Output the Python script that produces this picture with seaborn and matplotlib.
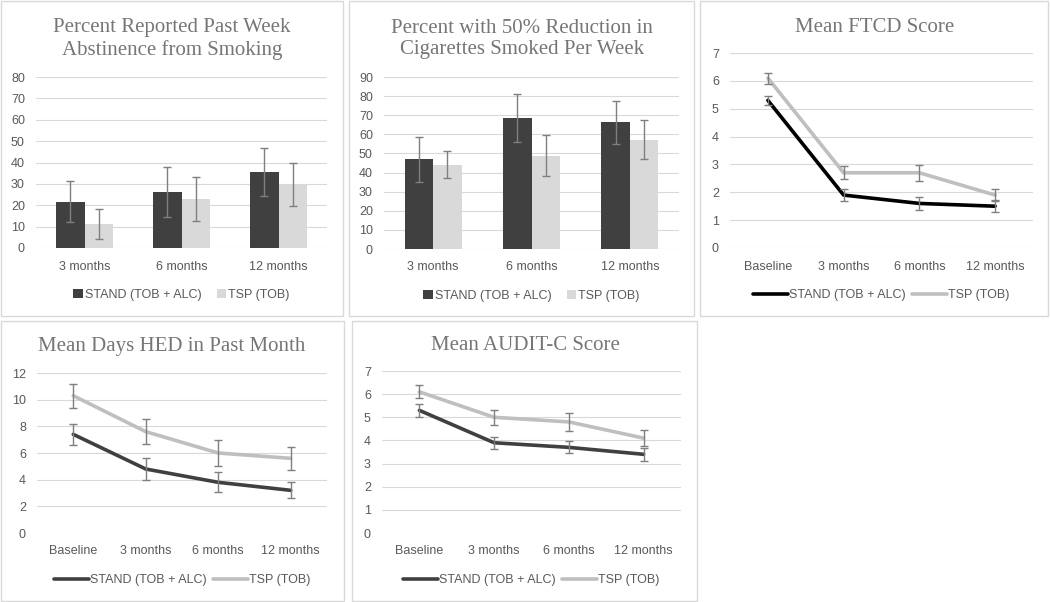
import matplotlib
matplotlib.use("Agg")
import matplotlib.pyplot as plt
import seaborn as sns
import pandas as pd
from matplotlib.patches import Rectangle
from matplotlib.container import BarContainer

# ---------------- data ----------------
groups = ["STAND (TOB + ALC)", "TSP (TOB)"]
bar_periods = ["3 months", "6 months", "12 months"]
line_periods = ["Baseline", "3 months", "6 months", "12 months"]

abst_stand = [21.6, 26.2, 35.6]
abst_stand_err = [9.6, 11.9, 11.2]
abst_tsp = [11.4, 22.9, 29.6]
abst_tsp_err = [7.0, 10.5, 10.0]

red_stand = [46.9, 68.5, 66.4]
red_stand_err = [11.8, 12.4, 11.2]
red_tsp = [44.2, 48.9, 57.2]
red_tsp_err = [7.0, 10.7, 10.1]

ftcd_stand = [5.3, 1.9, 1.6, 1.5]
ftcd_stand_err = [0.15, 0.21, 0.24, 0.22]
ftcd_tsp = [6.1, 2.7, 2.7, 1.9]
ftcd_tsp_err = [0.2, 0.24, 0.28, 0.22]

hed_stand = [7.4, 4.8, 3.8, 3.2]
hed_stand_err = [0.8, 0.83, 0.75, 0.6]
hed_tsp = [10.3, 7.6, 6.0, 5.6]
hed_tsp_err = [0.9, 0.95, 1.0, 0.85]

aud_stand = [5.3, 3.9, 3.7, 3.4]
aud_stand_err = [0.28, 0.26, 0.26, 0.29]
aud_tsp = [6.1, 5.0, 4.8, 4.1]
aud_tsp_err = [0.28, 0.32, 0.38, 0.36]

# ---------------- style ----------------
sns.set_theme(style="white")
plt.rcParams["font.family"] = ["Liberation Sans", "DejaVu Sans"]

TICK_C = "#595959"
TITLE_C = "#767676"
GRID_C = "#d9d9d9"
ERR_C = "#7f7f7f"
FIG_W, FIG_H = 1050, 602

fig = plt.figure(figsize=(10.5, 6.02), dpi=100)


def add_axes(x0, x1, ytop, ybot):
    return fig.add_axes([x0 / FIG_W, 1 - ybot / FIG_H, (x1 - x0) / FIG_W, (ybot - ytop) / FIG_H])


def box(x0, y0, x1, y1):
    fig.patches.append(Rectangle((x0 / FIG_W, 1 - y1 / FIG_H), (x1 - x0) / FIG_W, (y1 - y0) / FIG_H,
                                 transform=fig.transFigure, fill=False, edgecolor=GRID_C, lw=1.0))


def style_axes(ax, ymax, step):
    for s in ax.spines.values():
        s.set_visible(False)
    ax.set_ylim(0, ymax)
    ax.set_yticks(range(0, ymax + 1, step))
    ax.yaxis.grid(True, color=GRID_C, lw=0.8)
    ax.xaxis.grid(False)
    ax.set_axisbelow(True)
    ax.tick_params(axis="both", length=0, labelsize=9, labelcolor=TICK_C)
    ax.tick_params(axis="x", pad=9)
    ax.tick_params(axis="y", pad=8)
    ax.set_xlabel("")
    ax.set_ylabel("")


def title(xc, yc, text):
    fig.text(xc / FIG_W, 1 - yc / FIG_H, text, ha="center", va="center",
             fontsize=15, color=TITLE_C, family=["Liberation Serif", "DejaVu Serif"], linespacing=1.15)


def bar_panel(ax, s_vals, s_err, t_vals, t_err, ymax, step):
    df = pd.DataFrame({
        "period": bar_periods * 2,
        "group": [groups[0]] * 3 + [groups[1]] * 3,
        "value": s_vals + t_vals,
    })
    sns.barplot(data=df, x="period", y="value", hue="group", hue_order=groups,
                palette=["#404040", "#d9d9d9"], errorbar=None, width=0.58, ax=ax,
                saturation=1, linewidth=0)
    errs = [s_err, t_err]
    bar_conts = [c for c in ax.containers if isinstance(c, BarContainer)]
    for gi, cont in enumerate(bar_conts):
        xs = [b.get_x() + b.get_width() / 2 for b in cont]
        ys = [b.get_height() for b in cont]
        ax.errorbar(xs, ys, yerr=errs[gi], fmt="none", ecolor=ERR_C, elinewidth=1, capsize=3, capthick=1)
    style_axes(ax, ymax, step)
    ax.set_xlim(-0.5, 2.5)
    h, l = ax.get_legend_handles_labels()
    ax.legend(h, l, loc="center", bbox_to_anchor=(0.5, -47 / (ax.bbox.height)), ncol=2, frameon=False,
              fontsize=9, labelcolor=TICK_C, handlelength=0.75, handleheight=0.75,
              handletextpad=0.2, columnspacing=1.2)


def line_panel(ax, s_vals, s_err, t_vals, t_err, ymax, step, s_color):
    df = pd.DataFrame({
        "period": line_periods * 2,
        "group": [groups[0]] * 4 + [groups[1]] * 4,
        "value": s_vals + t_vals,
    })
    sns.lineplot(data=df, x="period", y="value", hue="group", hue_order=groups,
                 palette=[s_color, "#bfbfbf"], linewidth=2.6, sort=False, ax=ax)
    ax.errorbar(line_periods, s_vals, yerr=s_err, fmt="none", ecolor=ERR_C, elinewidth=1, capsize=3, capthick=1, zorder=3)
    ax.errorbar(line_periods, t_vals, yerr=t_err, fmt="none", ecolor=ERR_C, elinewidth=1, capsize=3, capthick=1, zorder=3)
    style_axes(ax, ymax, step)
    ax.set_xlim(-0.5, 3.5)
    h, l = ax.get_legend_handles_labels()
    ax.legend(h, l, loc="center", bbox_to_anchor=(0.5, -47 / (ax.bbox.height)), ncol=2, frameon=False,
              fontsize=9, labelcolor=TICK_C, handlelength=2.8,
              handletextpad=0.1, columnspacing=0.5)


# panel borders
box(1, 1, 343, 316)
box(349, 1, 694, 316)
box(700, 1, 1048, 316)
box(1, 321, 344, 601)
box(352, 321, 697, 601)

# Panel 1
ax1 = add_axes(36, 327, 77, 248)
bar_panel(ax1, abst_stand, abst_stand_err, abst_tsp, abst_tsp_err, 80, 10)
title(172, 39, "Percent Reported Past Week\nAbstinence from Smoking")

# Panel 2
ax2 = add_axes(384, 679, 77, 249)
bar_panel(ax2, red_stand, red_stand_err, red_tsp, red_tsp_err, 90, 10)
title(522, 39, "Percent with 50% Reduction in\nCigarettes Smoked Per Week")

# Panel 3
ax3 = add_axes(730, 1033, 53, 248)
line_panel(ax3, ftcd_stand, ftcd_stand_err, ftcd_tsp, ftcd_tsp_err, 7, 1, "#000000")
title(875, 27, "Mean FTCD Score")

# Panel 4
ax4 = add_axes(37, 327, 373, 533)
line_panel(ax4, hed_stand, hed_stand_err, hed_tsp, hed_tsp_err, 12, 2, "#404040")
title(172, 347, "Mean Days HED in Past Month")

# Panel 5
ax5 = add_axes(382, 681, 371, 533)
line_panel(ax5, aud_stand, aud_stand_err, aud_tsp, aud_tsp_err, 7, 1, "#404040")
title(525, 346, "Mean AUDIT-C Score")

fig.savefig("out.png", dpi=100, facecolor="white")
